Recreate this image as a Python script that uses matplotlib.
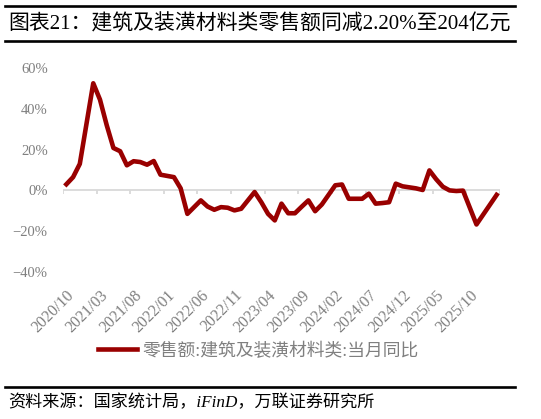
import numpy as np
import pandas as pd
import matplotlib
matplotlib.use("Agg")
import matplotlib.pyplot as plt
from matplotlib.lines import Line2D

plt.rcParams['font.family'] = ['Liberation Serif', 'Noto Sans CJK SC', 'DejaVu Sans']

# monthly categories on the axis (January has no separate value)
categories = [p.strftime("%Y/%m") for p in pd.period_range("2020-10", "2026-02", freq="M")]
label_months = categories[0:61:5]

dates = ["2020/10", "2020/11", "2020/12",
         "2021/02", "2021/03", "2021/04", "2021/05", "2021/06", "2021/07", "2021/08",
         "2021/09", "2021/10", "2021/11", "2021/12",
         "2022/02", "2022/03", "2022/04", "2022/05", "2022/06", "2022/07", "2022/08",
         "2022/09", "2022/10", "2022/11", "2022/12",
         "2023/02", "2023/03", "2023/04", "2023/05", "2023/06", "2023/07", "2023/08",
         "2023/09", "2023/10", "2023/11", "2023/12",
         "2024/02", "2024/03", "2024/04", "2024/05", "2024/06", "2024/07", "2024/08",
         "2024/09", "2024/10", "2024/11", "2024/12",
         "2025/02", "2025/03", "2025/04", "2025/05", "2025/06", "2025/07", "2025/08",
         "2025/09", "2025/10", "2025/11",
         "2026/02"]
yoy = [3.0, 6.5, 13.0,
       52.5, 44.5, 32.0, 20.8, 19.2, 12.3, 14.3,
       13.9, 12.6, 14.4, 7.7,
       6.5, 1.0, -11.5, -8.2, -4.9, -7.9, -9.5,
       -8.2, -8.5, -9.8, -9.0,
       -0.8, -5.8, -11.5, -14.7, -6.5, -11.2, -11.2,
       -8.0, -4.9, -10.2, -6.9,
       2.5, 2.9, -4.1, -4.1, -4.1, -1.6, -6.5,
       -6.2, -5.8, 3.3, 2.0,
       1.0, 0.2, 9.8, 5.5, 1.8, 0.0, -0.3,
       -0.1, -8.4, -16.7,
       -2.2]

title = "图表21：建筑及装潢材料类零售额同减2.20%至204亿元"
series_name = "零售额:建筑及装潢材料类:当月同比"
source = "资料来源：国家统计局，iFinD，万联证券研究所"

W, H = 541, 419
fig = plt.figure(figsize=(W / 100, H / 100), dpi=100)
ax = fig.add_axes([63 / W, 1 - 272 / H, 437 / W, 204 / H])

x = [categories.index(d) for d in dates]
line, = ax.plot(x, yoy, color='#990000', lw=3.3, solid_joinstyle='round', zorder=3)

ax.set_xlim(-0.5, len(categories) - 0.5)
ax.set_ylim(-40, 60)
ax.set_yticks(np.arange(-40, 61, 20))
ax.yaxis.set_major_formatter(lambda v, p: f"{v:.0f}%".replace("-", "\u2212"))
ax.set_xticks([categories.index(m) for m in label_months])
ax.set_xticklabels(label_months, rotation=45, ha='right', va='top', rotation_mode='anchor')

for s in ax.spines.values():
    s.set_visible(False)
ax.tick_params(axis='both', length=0, labelcolor='#7f7f7f')
ax.tick_params(axis='y', pad=11, labelsize=10.5)
ax.tick_params(axis='x', pad=11, labelsize=11.5)

# zero line with its small tick marks
ax.axhline(0, color='#d9d9d9', lw=1.3, zorder=1)
ax.vlines(np.arange(-0.5, len(categories), 5), -2, 0, color='#d9d9d9', lw=1.3, zorder=1)

fig.legend([line], [series_name], loc='center', bbox_to_anchor=(258 / W, 1 - 351 / H),
           frameon=False, handlelength=2.2, handletextpad=0.3, fontsize=12.8,
           labelcolor='#7f7f7f')

fig.text(8 / W, 1 - 24 / H, title, fontsize=15, ha='left', va='center')
fig.text(8 / W, 1 - 403 / H, source, fontsize=12.3, style='italic', ha='left', va='center')

for yy in (6, 41, 387):
    fig.add_artist(Line2D([5 / W, 515 / W], [1 - yy / H, 1 - yy / H], color='black', lw=1.9))

fig.savefig("out.png", dpi=100)
